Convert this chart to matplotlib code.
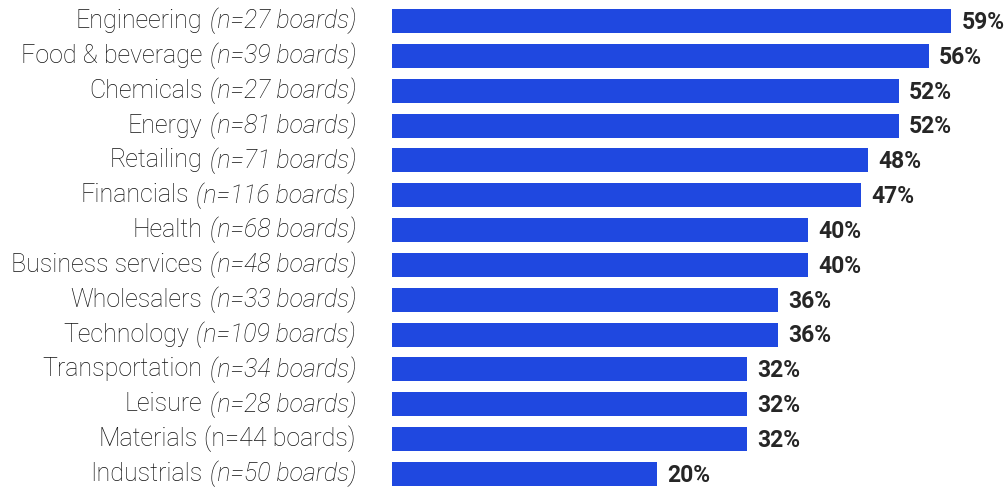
import matplotlib.pyplot as plt
import numpy as np

sectors = [
    "Engineering", "Food & beverage", "Chemicals", "Energy", "Retailing",
    "Financials", "Health", "Business services", "Wholesalers", "Technology",
    "Transportation", "Leisure", "Materials", "Industrials",
]
boards = [27, 39, 27, 81, 71, 116, 68, 48, 33, 109, 34, 28, 44, 50]
shares = [59, 56, 52, 52, 48, 47, 40, 40, 36, 36, 32, 32, 32, 20]

# in the source the note for Materials is set upright, the rest italic
upright_notes = {"Materials"}

BAR_COLOR = "#1f48e0"
TEXT_COLOR = "#262626"
LABEL_COLOR = "#111111"
BASE = -15  # bars start left of zero in the original layout

plt.rcParams["font.family"] = ["Roboto", "DejaVu Sans"]

fig = plt.figure(figsize=(10.05, 4.87), dpi=100)
ax = fig.add_axes([392 / 1005, 0, 613 / 1005, 1])

y = np.arange(len(sectors))
vals = np.array(shares, dtype=float)
ax.barh(y, vals - BASE, left=BASE, height=0.69, color=BAR_COLOR)

ax.set_xlim(BASE, BASE + 613 / 7.56)
ax.set_ylim(13.374, -0.603)
ax.axis("off")

for yi, v in zip(y, vals):
    ax.annotate(f"{v:.0f}%", (v, yi), xytext=(7.5, -1), textcoords="offset points",
                ha="left", va="center", fontsize=16.5, fontweight="bold",
                color=TEXT_COLOR)

renderer = fig.canvas.get_renderer()
label_x = 356 / 1005
for yi, name, n in zip(y, sectors, boards):
    ypos = ax.transData.transform((0, yi))[1]
    yfig = fig.transFigure.inverted().transform((0, ypos))[1]
    style = "normal" if name in upright_notes else "italic"
    note = fig.text(label_x, yfig, f"(n={n} boards)",
                    ha="right", va="center", fontsize=18, fontstyle=style,
                    fontweight="light", color=LABEL_COLOR)
    bb = note.get_window_extent(renderer)
    x_name = (bb.x0 - 7) / fig.bbox.width
    fig.text(x_name, yfig, name, ha="right", va="center", fontsize=18,
             fontweight="light", color=LABEL_COLOR)

fig.savefig("out.png", dpi=100)
